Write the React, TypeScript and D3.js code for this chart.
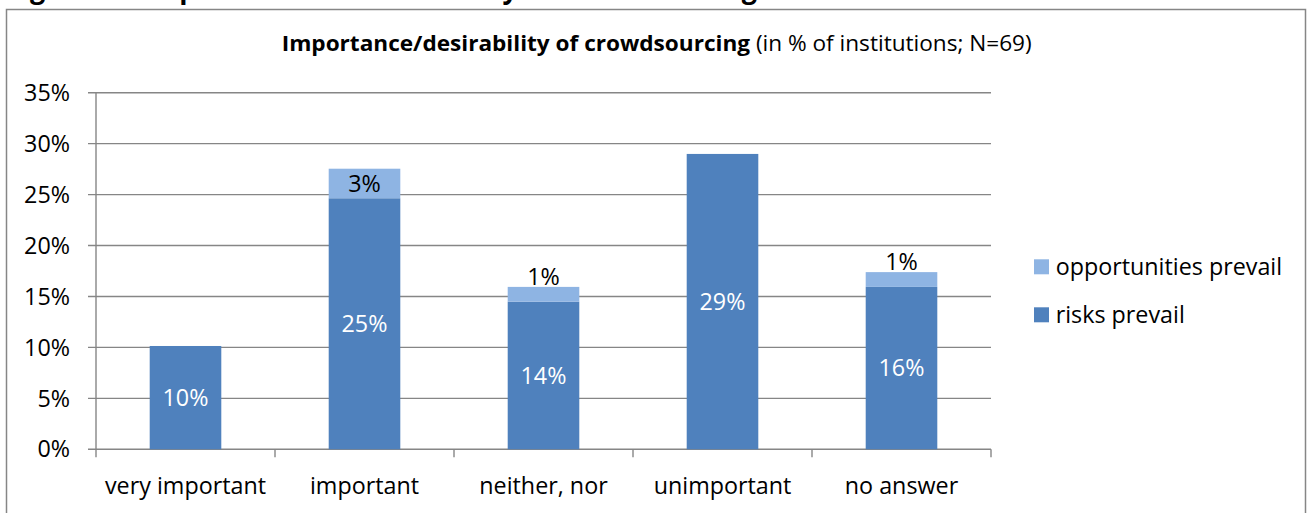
import React from "react";
import * as d3 from "d3";

// Survey answers, in % of institutions (N = 69)
const categories = ["very important", "important", "neither, nor", "unimportant", "no answer"];
const risksPrevail = [10.14, 24.64, 14.49, 28.99, 15.94];
const opportunitiesPrevail = [0, 2.9, 1.45, 0, 1.45];
const yTicks = [0, 5, 10, 15, 20, 25, 30, 35];
const seriesNames = ["opportunities prevail", "risks prevail"];

const W = 1310;
const H = 513;
const FONT = "'Open Sans', 'Noto Sans', sans-serif";
const DARK = "#4F81BD";
const LIGHT = "#8EB4E3";
const GRID = "#868686";

const plot = { left: 96, right: 991, top: 92.7, bottom: 449.3 };

export default function App() {
  const x = d3
    .scaleBand<string>()
    .domain(categories)
    .range([plot.left, plot.right])
    .paddingInner(0.6)
    .paddingOuter(0.3);
  const y = d3.scaleLinear().domain([0, 35]).range([plot.bottom, plot.top]);
  const step = x.step();
  const fmt = (v: number) => `${Math.round(v)}%`;
  const fs = 23.3;

  return (
    <div style={{ position: "absolute", left: 0, top: 0 }}>
      <svg width={W} height={H} style={{ display: "block", fontFamily: FONT }}>
        <rect width={W} height={H} fill="#fff" />
        {/* caption above the chart frame */}
        <text x={7} y={-2} fontSize={28} fontWeight="bold" textLength={750} lengthAdjust="spacingAndGlyphs">
          Figure 10: Importance and desirability of crowdsourcing
        </text>
        {/* chart frame */}
        <rect x={6.5} y={9.5} width={1299} height={520} fill="none" stroke={GRID} strokeWidth={1.5} />

        {/* title */}
        <text x={656.7} y={51} fontSize={21.5} textAnchor="middle" textLength={750} lengthAdjust="spacingAndGlyphs">
          <tspan fontWeight="bold">Importance/desirability of crowdsourcing</tspan>
          <tspan> (in % of institutions; N=69)</tspan>
        </text>

        {/* gridlines and y axis */}
        {yTicks.map((t) => (
          <g key={t}>
            <line x1={plot.left - 8} x2={plot.right} y1={y(t)} y2={y(t)} stroke={GRID} strokeWidth={1.4} />
            <text x={70} y={y(t)} dy="0.35em" fontSize={fs} textAnchor="end">
              {`${t}%`}
            </text>
          </g>
        ))}
        <line x1={plot.left} x2={plot.left} y1={plot.top} y2={plot.bottom} stroke={GRID} strokeWidth={1.4} />

        {/* x axis ticks at category boundaries */}
        {d3.range(categories.length + 1).map((i) => {
          const xx = plot.left + i * step;
          return <line key={i} x1={xx} x2={xx} y1={plot.bottom} y2={plot.bottom + 8} stroke={GRID} strokeWidth={1.4} />;
        })}
        {categories.map((c) => (
          <text key={c} x={(x(c) ?? 0) + x.bandwidth() / 2} y={494} fontSize={fs} textAnchor="middle">
            {c}
          </text>
        ))}

        {/* stacked bars */}
        {categories.map((c, i) => {
          const bx = x(c) ?? 0;
          const bw = x.bandwidth();
          const cx = bx + bw / 2;
          const r = risksPrevail[i];
          const o = opportunitiesPrevail[i];
          const rTop = y(r);
          const oTop = y(r + o);
          const oH = rTop - oTop;
          return (
            <g key={c}>
              <rect x={bx} y={rTop} width={bw} height={plot.bottom - rTop} fill={DARK} />
              <text x={cx} y={(rTop + plot.bottom) / 2} dy="0.35em" fontSize={fs} textAnchor="middle" fill="#fff">
                {fmt(r)}
              </text>
              {o > 0 && (
                <>
                  <rect x={bx} y={oTop} width={bw} height={oH} fill={LIGHT} />
                  <text
                    x={cx}
                    y={oH > 24 ? (oTop + rTop) / 2 : oTop - 10}
                    dy="0.35em"
                    fontSize={fs}
                    textAnchor="middle"
                    fill="#000"
                  >
                    {fmt(o)}
                  </text>
                </>
              )}
            </g>
          );
        })}

        {/* legend */}
        {seriesNames.map((s, i) => {
          const sy = 259.3 + i * 48;
          return (
            <g key={s}>
              <rect x={1034} y={sy} width={15} height={15} fill={i === 0 ? LIGHT : DARK} />
              <text x={1055.7} y={sy + 7.5} dy="0.35em" fontSize={fs}>
                {s}
              </text>
            </g>
          );
        })}
      </svg>
    </div>
  );
}
